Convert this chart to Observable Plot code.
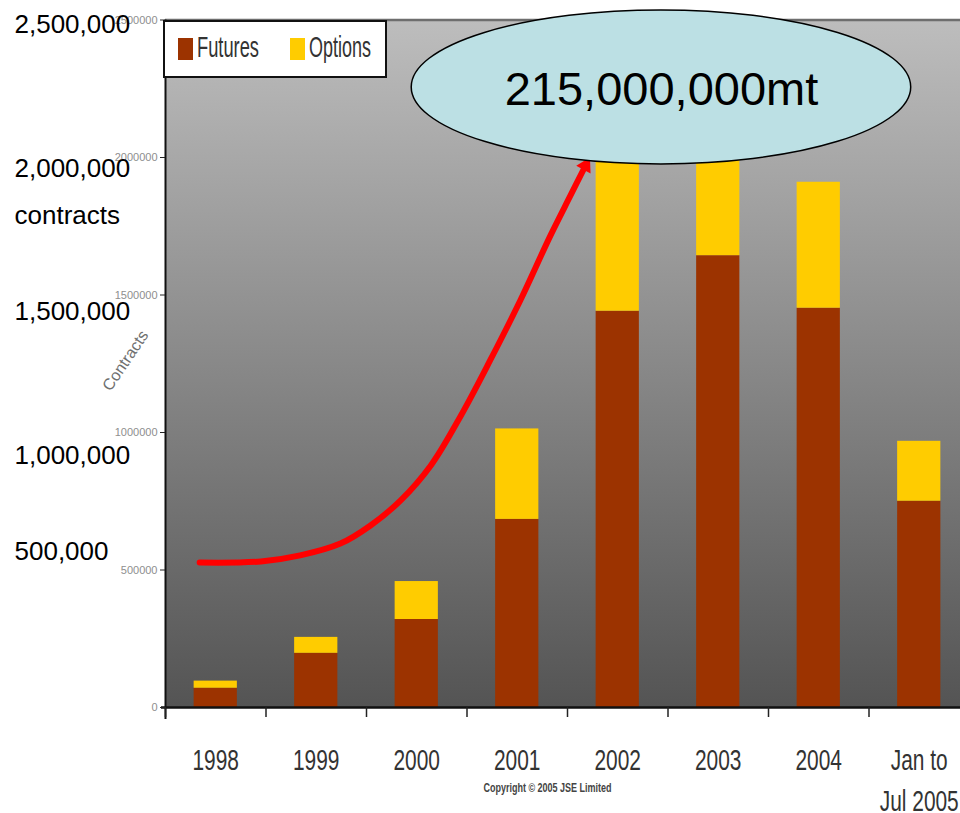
<!DOCTYPE html>
<html>
<head>
<meta charset="utf-8">
<script src="https://cdn.jsdelivr.net/npm/d3@7"></script>
<script src="https://cdn.jsdelivr.net/npm/@observablehq/plot@0.6"></script>
<style>
  html, body { margin: 0; padding: 0; background: #fff; }
  #chart svg { display: block; }
</style>
</head>
<body>
<div id="chart"></div>
<script>
// Contracts traded per year, split into futures and options
const categories = ["1998", "1999", "2000", "2001", "2002", "2003", "2004", "Jan to\nJul 2005"];
const futures = [70000, 197000, 320000, 684000, 1441000, 1643000, 1452000, 750000];
const options = [26000, 58000, 138000, 329000, 600000, 490000, 458000, 218000];
const seriesNames = ["Futures", "Options"];
const seriesColors = ["#9c3300", "#ffcc00"];
const yTicks = [0, 500000, 1000000, 1500000, 2000000, 2500000];

// Large hand-placed notes on the left of the value axis
const sideNotes = [
  {text: "2,500,000", y: 2484000},
  {text: "2,000,000", y: 1961000},
  {text: "contracts", y: 1790000},
  {text: "1,500,000", y: 1441000},
  {text: "1,000,000", y: 917000},
  {text: "500,000", y: 568000}
];

// Growth arrow, in (category index, contracts) space
const growthArrow = [
  [0.34, 527000], [0.95, 531000], [1.34, 553000], [1.74, 596000],
  [2.04, 662000], [2.34, 753000], [2.64, 880000], [2.94, 1062000],
  [3.23, 1262000], [3.53, 1480000], [3.83, 1716000], [4.03, 1862000],
  [4.18, 1971000]
];

// Callout bubble bounds and its text
const bubble = {x1: 2.45, x2: 7.42, y1: 1975000, y2: 2535000};
const bubbleText = {text: "215,000,000mt", x: 4.935, y: 2245000};
const copyrightLine = "Copyright © 2005 JSE Limited";

// Stacked segments
const rows = categories.flatMap((category, i) => [
  {i, category, series: "Futures", y1: 0, y2: futures[i]},
  {i, category, series: "Options", y1: futures[i], y2: futures[i] + options[i]}
]);

const font = "'Liberation Sans', Arial, sans-serif";

function shadeDefs() {
  const defs = d3.create("svg:defs");
  const lg = defs.append("linearGradient")
    .attr("id", "plotShade").attr("x1", 0).attr("y1", 0).attr("x2", 0).attr("y2", 1);
  lg.append("stop").attr("offset", "0%").attr("stop-color", "#bdbdbd");
  lg.append("stop").attr("offset", "100%").attr("stop-color", "#545454");
  return defs.node();
}

function bubbleMark(index, scales) {
  const {x, y} = scales;
  const cx = (x(bubble.x1) + x(bubble.x2)) / 2;
  const cy = (y(bubble.y1) + y(bubble.y2)) / 2;
  return d3.create("svg:ellipse")
    .attr("cx", cx).attr("cy", cy)
    .attr("rx", Math.abs(x(bubble.x2) - x(bubble.x1)) / 2)
    .attr("ry", Math.abs(y(bubble.y2) - y(bubble.y1)) / 2)
    .attr("fill", "#bce0e4")
    .attr("stroke", "#000")
    .attr("stroke-width", 1.5)
    .node();
}

function legendMark(index, scales, values, dimensions) {
  const left = dimensions.marginLeft;
  const top = dimensions.marginTop;
  const g = d3.create("svg:g").attr("aria-label", "legend");
  g.append("rect")
    .attr("x", left - 1).attr("y", top + 1.5)
    .attr("width", 222).attr("height", 56)
    .attr("fill", "#fff").attr("stroke", "#111").attr("stroke-width", 2);
  seriesNames.forEach((name, k) => {
    const x0 = left + 13 + k * 112;
    g.append("rect")
      .attr("x", x0).attr("y", top + 18.5)
      .attr("width", 15).attr("height", 22)
      .attr("fill", seriesColors[k]);
    g.append("text")
      .attr("x", x0 + 19).attr("y", top + 37.5)
      .attr("text-anchor", "start")
      .attr("font-size", 29).attr("font-family", font)
      .attr("fill", "#333")
      .attr("textLength", 62).attr("lengthAdjust", "spacingAndGlyphs")
      .text(name);
  });
  return g.node();
}

const chart = Plot.plot({
  width: 960,
  height: 813,
  marginTop: 19.5,
  marginBottom: 106,
  marginLeft: 165,
  marginRight: 0,
  style: {fontFamily: font, background: "#fff", overflow: "visible"},
  x: {domain: [0, 8], range: [165, 969], axis: null},
  y: {domain: [0, 2500000], range: [707, 19.5], axis: null},
  color: {domain: seriesNames, range: seriesColors},
  marks: [
    shadeDefs,
    Plot.frame({fill: "url(#plotShade)", stroke: null}),
    Plot.rect(rows, {
      x1: d => d.i + 0.285,
      x2: d => d.i + 0.715,
      y1: "y1",
      y2: "y2",
      fill: "series"
    }),
    Plot.ruleY([2500000], {stroke: "#6e6e6e", strokeWidth: 2.5}),
    Plot.ruleY([0], {stroke: "#111", strokeWidth: 2.5, insetLeft: -4}),
    Plot.ruleX([0], {stroke: "#111", strokeWidth: 2, insetBottom: -12}),
    Plot.axisY(yTicks, {
      tickSize: 5, tickPadding: 3, fontSize: 11,
      tickFormat: d => String(d), label: null,
      stroke: "#222", fill: "#8e8e8e"
    }),
    Plot.axisX(categories.map((_, i) => i), {
      tickSize: 10, strokeWidth: 1.5, stroke: "#222",
      fill: "none", label: null
    }),
    Plot.text(["Contracts"], {
      frameAnchor: "left", dx: -40, dy: -3, rotate: -56,
      textAnchor: "middle",
      fontSize: 16, fill: "#6f6f6f"
    }),
    Plot.text(categories, {
      x: (d, i) => i + 0.5,
      frameAnchor: "bottom",
      dy: 33.4,
      lineAnchor: "top",
      lineHeight: 1.41,
      fontSize: 29,
      fill: "#333"
    }),
    Plot.text([copyrightLine], {
      frameAnchor: "bottom", dx: -15.5, dy: 84,
      fontSize: 12, fontWeight: "bold", fill: "#444"
    }),
    Plot.text(sideNotes, {
      y: "y", text: "text",
      frameAnchor: "left", dx: -151, textAnchor: "start",
      fontSize: 26, fill: "#000"
    }),
    Plot.line(growthArrow, {
      x: d => d[0], y: d => d[1],
      curve: "catmull-rom",
      stroke: "#ff0000", strokeWidth: 6, strokeLinecap: "round"
    }),
    Plot.dot([growthArrow[growthArrow.length - 1]], {
      x: d => d[0], y: d => d[1],
      symbol: "triangle", r: 6, rotate: 28, fill: "#ff0000", stroke: null
    }),
    bubbleMark,
    Plot.text([bubbleText], {
      x: "x", y: "y", text: "text",
      fontSize: 47, fill: "#000"
    }),
    legendMark
  ]
});

document.getElementById("chart").append(chart);

// The printed category and copyright labels are set in a condensed face
function condense(selector, ratio) {
  d3.select(chart).selectAll(selector).each(function () {
    const tspans = this.querySelectorAll("tspan");
    const parts = tspans.length ? Array.from(tspans) : [this];
    parts.forEach(el => {
      const w = el.getComputedTextLength();
      if (w > 0) {
        el.setAttribute("textLength", (w * ratio).toFixed(1));
        el.setAttribute("lengthAdjust", "spacingAndGlyphs");
      }
    });
  });
}
condense('g[font-size="29"] text', 0.72);
condense('g[font-weight="bold"] text', 0.75);
</script>
</body>
</html>
